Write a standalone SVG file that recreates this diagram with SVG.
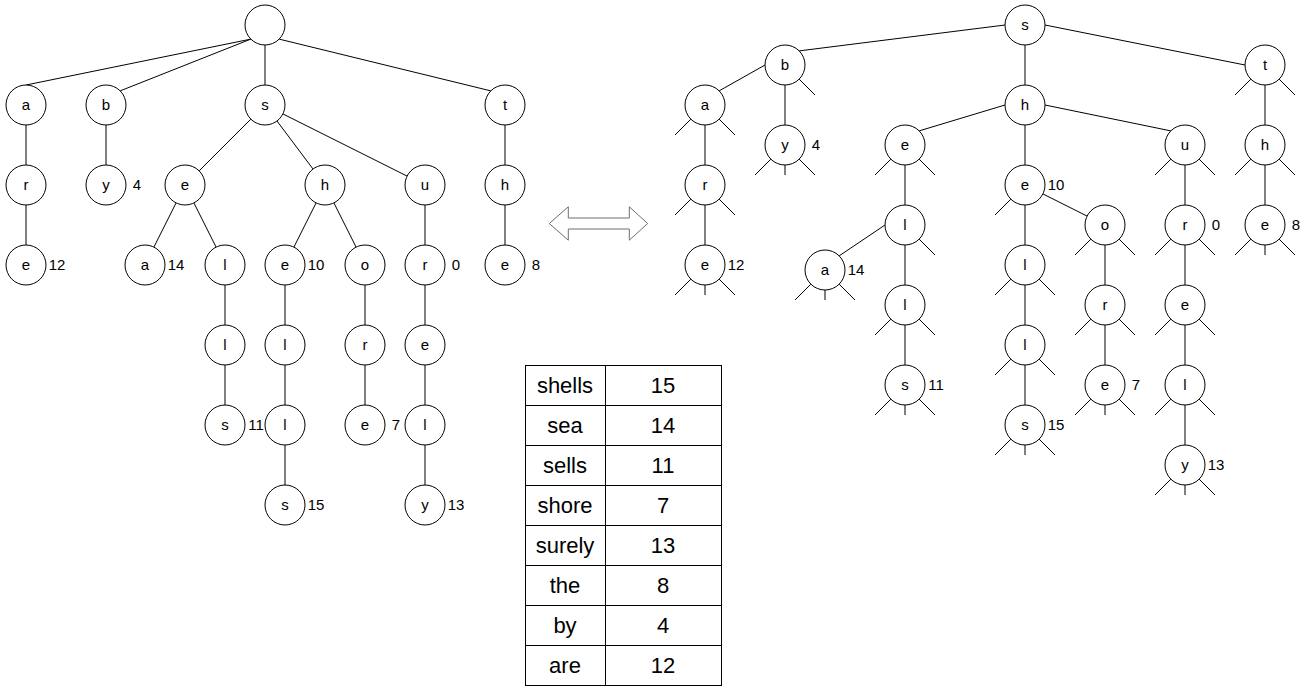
<svg xmlns="http://www.w3.org/2000/svg" width="1311" height="691" viewBox="0 0 1311 691">
<style>
.n{fill:#fff;stroke:#000;stroke-width:1}
.t{font-family:"Liberation Sans",Arial,Helvetica,sans-serif;font-size:15px;text-anchor:middle;fill:#000}
.lb{font-family:"Liberation Sans",Arial,Helvetica,sans-serif;font-size:15px;text-anchor:middle;fill:#000}
.tb{font-family:"Liberation Sans",Arial,Helvetica,sans-serif;font-size:22px;text-anchor:middle;fill:#000}
.e{stroke:#000;stroke-width:1;fill:none}
</style>
<rect width="1311" height="691" fill="#fff"/>
<g id="connectors" class="e">
<!-- left tree -->
<path d="M250.9,39.1L26,85M250.9,39.1L120.1,90.9M265,45L265,85M279.1,39.1L490.9,90.9"/>
<path d="M26,125L26,165M26,205L26,245M106,125L106,165"/>
<path d="M250.9,119.1L199.1,170.9M277,121L313,169M282.9,113.9L407.1,176.1"/>
<path d="M176.1,202.9L153.9,247.1M193.9,202.9L216.1,247.1M225,285L225,325M225,365L225,405"/>
<path d="M316.1,202.9L293.9,247.1M333.9,202.9L356.1,247.1M285,285L285,325M285,365L285,405M285,445L285,485"/>
<path d="M365,285L365,325M365,365L365,405"/>
<path d="M425,205L425,245M425,285L425,325M425,365L425,405M425,445L425,485"/>
<path d="M505,125L505,165M505,205L505,245"/>
<!-- right tree -->
<path d="M1005,25L799.1,50.9M1025,45L1025,85M1045,25L1245,65"/>
<path d="M765,65L719.1,90.9M785,85L785,125M705,125L705,165M705,205L705,245"/>
<path d="M1005,105L919.1,130.9M1025,125L1025,165M1045,105L1170.9,130.9"/>
<path d="M905,165L905,205M885,225L839.1,255.9M905,245L905,285M905,325L905,365"/>
<path d="M1025,205L1025,245M1025,285L1025,325M1025,365L1025,405M1042.9,193.9L1087.1,216.1"/>
<path d="M1105,245L1105,285M1105,325L1105,365"/>
<path d="M1185,165L1185,205M1185,245L1185,285M1185,325L1185,365M1185,405L1185,445"/>
<path d="M1265,85L1265,125M1265,165L1265,205"/>
<!-- null stubs -->
<path d="M799.1,79.1L815,95"/>
<path d="M690.9,119.1L675,135M719.1,119.1L735,135"/>
<path d="M690.9,199.1L675,215M719.1,199.1L735,215"/>
<path d="M690.9,279.1L675,295M705,285L705,295M719.1,279.1L735,295"/>
<path d="M770.9,159.1L755,175M785,165L785,175M799.1,159.1L815,175"/>
<path d="M890.9,159.1L875,175M919.1,159.1L935,175"/>
<path d="M919.1,239.1L935,255"/>
<path d="M810.9,284.1L795,300M825,290L825,300M839.1,284.1L855,300"/>
<path d="M890.9,319.1L875,335M919.1,319.1L935,335"/>
<path d="M890.9,399.1L875,415M905,405L905,415M919.1,399.1L935,415"/>
<path d="M1010.9,199.1L995,215"/>
<path d="M1010.9,279.1L995,295M1039.1,279.1L1055,295"/>
<path d="M1010.9,359.1L995,375M1039.1,359.1L1055,375"/>
<path d="M1010.9,439.1L995,455M1025,445L1025,455M1039.1,439.1L1055,455"/>
<path d="M1090.9,239.1L1075,255M1119.1,239.1L1135,255"/>
<path d="M1090.9,319.1L1075,335M1119.1,319.1L1135,335"/>
<path d="M1090.9,399.1L1075,415M1105,405L1105,415M1119.1,399.1L1135,415"/>
<path d="M1170.9,159.1L1155,175M1199.1,159.1L1215,175"/>
<path d="M1170.9,239.1L1155,255M1199.1,239.1L1215,255"/>
<path d="M1170.9,319.1L1155,335M1199.1,319.1L1215,335"/>
<path d="M1170.9,399.1L1155,415M1199.1,399.1L1215,415"/>
<path d="M1170.9,479.1L1155,495M1185,485L1185,495M1199.1,479.1L1215,495"/>
<path d="M1250.9,79.1L1235,95M1279.1,79.1L1295,95"/>
<path d="M1250.9,159.1L1235,175M1279.1,159.1L1295,175"/>
<path d="M1250.9,239.1L1235,255M1265,245L1265,255M1279.1,239.1L1295,255"/>
</g>
<!-- left tree nodes -->
<g id="L-root"><circle class="n" cx="265" cy="25" r="20"/></g>
<g id="L-a"><circle class="n" cx="26" cy="105" r="20"/><text class="t" x="26" y="110">a</text></g>
<g id="L-ar"><circle class="n" cx="26" cy="185" r="20"/><text class="t" x="26" y="190">r</text></g>
<g id="L-are"><circle class="n" cx="26" cy="265" r="20"/><text class="t" x="26" y="270">e</text><text class="lb" x="57" y="270">12</text></g>
<g id="L-b"><circle class="n" cx="106" cy="105" r="20"/><text class="t" x="106" y="110">b</text></g>
<g id="L-by"><circle class="n" cx="106" cy="185" r="20"/><text class="t" x="106" y="190">y</text><text class="lb" x="137" y="190">4</text></g>
<g id="L-s"><circle class="n" cx="265" cy="105" r="20"/><text class="t" x="265" y="110">s</text></g>
<g id="L-se"><circle class="n" cx="185" cy="185" r="20"/><text class="t" x="185" y="190">e</text></g>
<g id="L-sea"><circle class="n" cx="145" cy="265" r="20"/><text class="t" x="145" y="270">a</text><text class="lb" x="176" y="270">14</text></g>
<g id="L-sel"><circle class="n" cx="225" cy="265" r="20"/><text class="t" x="225" y="270">l</text></g>
<g id="L-sell"><circle class="n" cx="225" cy="345" r="20"/><text class="t" x="225" y="350">l</text></g>
<g id="L-sells"><circle class="n" cx="225" cy="425" r="20"/><text class="t" x="225" y="430">s</text><text class="lb" x="256" y="430">11</text></g>
<g id="L-sh"><circle class="n" cx="325" cy="185" r="20"/><text class="t" x="325" y="190">h</text></g>
<g id="L-she"><circle class="n" cx="285" cy="265" r="20"/><text class="t" x="285" y="270">e</text><text class="lb" x="316" y="270">10</text></g>
<g id="L-shel"><circle class="n" cx="285" cy="345" r="20"/><text class="t" x="285" y="350">l</text></g>
<g id="L-shell"><circle class="n" cx="285" cy="425" r="20"/><text class="t" x="285" y="430">l</text></g>
<g id="L-shells"><circle class="n" cx="285" cy="505" r="20"/><text class="t" x="285" y="510">s</text><text class="lb" x="316" y="510">15</text></g>
<g id="L-sho"><circle class="n" cx="365" cy="265" r="20"/><text class="t" x="365" y="270">o</text></g>
<g id="L-shor"><circle class="n" cx="365" cy="345" r="20"/><text class="t" x="365" y="350">r</text></g>
<g id="L-shore"><circle class="n" cx="365" cy="425" r="20"/><text class="t" x="365" y="430">e</text><text class="lb" x="396" y="430">7</text></g>
<g id="L-su"><circle class="n" cx="425" cy="185" r="20"/><text class="t" x="425" y="190">u</text></g>
<g id="L-sur"><circle class="n" cx="425" cy="265" r="20"/><text class="t" x="425" y="270">r</text><text class="lb" x="456" y="270">0</text></g>
<g id="L-sure"><circle class="n" cx="425" cy="345" r="20"/><text class="t" x="425" y="350">e</text></g>
<g id="L-surel"><circle class="n" cx="425" cy="425" r="20"/><text class="t" x="425" y="430">l</text></g>
<g id="L-surely"><circle class="n" cx="425" cy="505" r="20"/><text class="t" x="425" y="510">y</text><text class="lb" x="456" y="510">13</text></g>
<g id="L-t"><circle class="n" cx="505" cy="105" r="20"/><text class="t" x="505" y="110">t</text></g>
<g id="L-th"><circle class="n" cx="505" cy="185" r="20"/><text class="t" x="505" y="190">h</text></g>
<g id="L-the"><circle class="n" cx="505" cy="265" r="20"/><text class="t" x="505" y="270">e</text><text class="lb" x="536" y="270">8</text></g>
<!-- arrow -->
<g id="double-arrow"><path d="M549.3,223.5L568.3,206.8L568.3,218L629.3,218L629.3,206.8L647.7,223.5L629.3,240.2L629.3,229L568.3,229L568.3,240.2Z" fill="#fff" stroke="#6e6e6e" stroke-width="1"/></g>
<!-- right tree nodes -->
<g id="R-s"><circle class="n" cx="1025" cy="25" r="20"/><text class="t" x="1025" y="30">s</text></g>
<g id="R-b"><circle class="n" cx="785" cy="65" r="20"/><text class="t" x="785" y="70">b</text></g>
<g id="R-a"><circle class="n" cx="705" cy="105" r="20"/><text class="t" x="705" y="110">a</text></g>
<g id="R-ar"><circle class="n" cx="705" cy="185" r="20"/><text class="t" x="705" y="190">r</text></g>
<g id="R-are"><circle class="n" cx="705" cy="265" r="20"/><text class="t" x="705" y="270">e</text><text class="lb" x="736" y="270">12</text></g>
<g id="R-by"><circle class="n" cx="785" cy="145" r="20"/><text class="t" x="785" y="150">y</text><text class="lb" x="816" y="150">4</text></g>
<g id="R-h"><circle class="n" cx="1025" cy="105" r="20"/><text class="t" x="1025" y="110">h</text></g>
<g id="R-se"><circle class="n" cx="905" cy="145" r="20"/><text class="t" x="905" y="150">e</text></g>
<g id="R-sel"><circle class="n" cx="905" cy="225" r="20"/><text class="t" x="905" y="230">l</text></g>
<g id="R-sea"><circle class="n" cx="825" cy="270" r="20"/><text class="t" x="825" y="275">a</text><text class="lb" x="856" y="275">14</text></g>
<g id="R-sell"><circle class="n" cx="905" cy="305" r="20"/><text class="t" x="905" y="310">l</text></g>
<g id="R-sells"><circle class="n" cx="905" cy="385" r="20"/><text class="t" x="905" y="390">s</text><text class="lb" x="936" y="390">11</text></g>
<g id="R-she"><circle class="n" cx="1025" cy="185" r="20"/><text class="t" x="1025" y="190">e</text><text class="lb" x="1056" y="190">10</text></g>
<g id="R-shel"><circle class="n" cx="1025" cy="265" r="20"/><text class="t" x="1025" y="270">l</text></g>
<g id="R-shell"><circle class="n" cx="1025" cy="345" r="20"/><text class="t" x="1025" y="350">l</text></g>
<g id="R-shells"><circle class="n" cx="1025" cy="425" r="20"/><text class="t" x="1025" y="430">s</text><text class="lb" x="1056" y="430">15</text></g>
<g id="R-sho"><circle class="n" cx="1105" cy="225" r="20"/><text class="t" x="1105" y="230">o</text></g>
<g id="R-shor"><circle class="n" cx="1105" cy="305" r="20"/><text class="t" x="1105" y="310">r</text></g>
<g id="R-shore"><circle class="n" cx="1105" cy="385" r="20"/><text class="t" x="1105" y="390">e</text><text class="lb" x="1136" y="390">7</text></g>
<g id="R-su"><circle class="n" cx="1185" cy="145" r="20"/><text class="t" x="1185" y="150">u</text></g>
<g id="R-sur"><circle class="n" cx="1185" cy="225" r="20"/><text class="t" x="1185" y="230">r</text><text class="lb" x="1216" y="230">0</text></g>
<g id="R-sure"><circle class="n" cx="1185" cy="305" r="20"/><text class="t" x="1185" y="310">e</text></g>
<g id="R-surel"><circle class="n" cx="1185" cy="385" r="20"/><text class="t" x="1185" y="390">l</text></g>
<g id="R-surely"><circle class="n" cx="1185" cy="465" r="20"/><text class="t" x="1185" y="470">y</text><text class="lb" x="1216" y="470">13</text></g>
<g id="R-t"><circle class="n" cx="1265" cy="65" r="20"/><text class="t" x="1265" y="70">t</text></g>
<g id="R-th"><circle class="n" cx="1265" cy="145" r="20"/><text class="t" x="1265" y="150">h</text></g>
<g id="R-the"><circle class="n" cx="1265" cy="225" r="20"/><text class="t" x="1265" y="230">e</text><text class="lb" x="1296" y="230">8</text></g>
<!-- table -->
<g id="table">
<rect x="525.5" y="365.5" width="196" height="320" fill="#fff" stroke="#000" stroke-width="1"/>
<path class="e" d="M605.5,365.5L605.5,685.5M525.5,405.5L721.5,405.5M525.5,445.5L721.5,445.5M525.5,485.5L721.5,485.5M525.5,525.5L721.5,525.5M525.5,565.5L721.5,565.5M525.5,605.5L721.5,605.5M525.5,645.5L721.5,645.5"/>
<text class="tb" x="565" y="393">shells</text><text class="tb" x="663" y="393">15</text>
<text class="tb" x="565" y="433">sea</text><text class="tb" x="663" y="433">14</text>
<text class="tb" x="565" y="473">sells</text><text class="tb" x="663" y="473">11</text>
<text class="tb" x="565" y="513">shore</text><text class="tb" x="663" y="513">7</text>
<text class="tb" x="565" y="553">surely</text><text class="tb" x="663" y="553">13</text>
<text class="tb" x="565" y="593">the</text><text class="tb" x="663" y="593">8</text>
<text class="tb" x="565" y="633">by</text><text class="tb" x="663" y="633">4</text>
<text class="tb" x="565" y="673">are</text><text class="tb" x="663" y="673">12</text>
</g>
</svg>
